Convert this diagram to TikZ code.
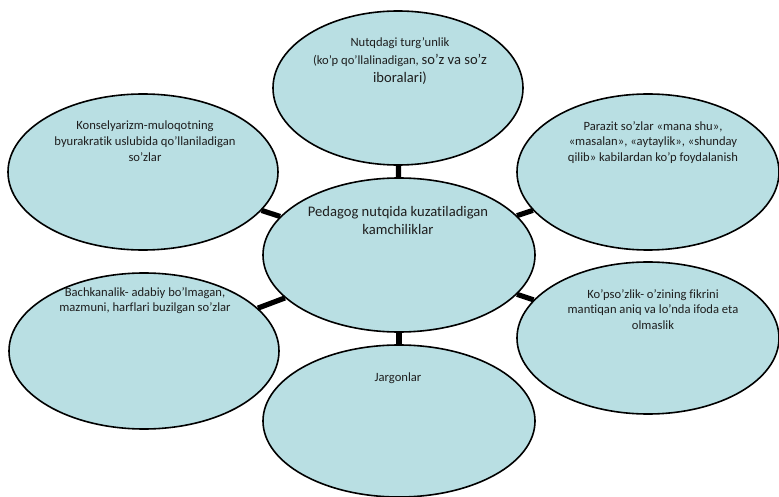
\documentclass[tikz,border=0pt]{standalone}
\usepackage{fontspec}
\setmainfont{Carlito}[Ligatures=NoCommon]
\usetikzlibrary{shapes.geometric}
\definecolor{ovalfill}{RGB}{185,223,227}
\definecolor{textgray}{RGB}{30,30,30}

\begin{document}
\begin{tikzpicture}[x=1pt, y=-1pt,
		oval_style/.style={ellipse,draw=black,line width=1.6pt,fill=ovalfill,inner sep=0pt},
		text_style/.style={align=center,anchor=north,inner sep=0pt,text=textgray,
			font=\fontsize{12.6}{15.6}\selectfont},
		edge_style/.style={draw=black,line width=5.2pt}]
		\useasboundingbox (0,0) rectangle (779,497);

		\node[oval_style,minimum width=272pt,minimum height=154pt] (n0) at (399,255) {};
		\node[oval_style,minimum width=250pt,minimum height=154pt] (n1) at (398,88)  {};
		\node[oval_style,minimum width=270pt,minimum height=156pt] (n2) at (143,172) {};
		\node[oval_style,minimum width=262pt,minimum height=156pt] (n3) at (648,172) {};
		\node[oval_style,minimum width=270pt,minimum height=156pt] (n4) at (144,351) {};
		\node[oval_style,minimum width=262pt,minimum height=152pt] (n5) at (648,338) {};
		\node[oval_style,minimum width=272pt,minimum height=152pt] (n6) at (399,421) {};

		\draw[edge_style]  (n0) -- (n1);
		\draw[edge_style]  (n0) -- (n2);
		\draw[edge_style]  (n0) -- (n3);
		\draw[edge_style]  (n0) -- (n4);
		\draw[edge_style]  (n0) -- (n5);
		\draw[edge_style]  (n0) -- (n6);

		\node[text_style,font=\fontsize{14.6}{18}\selectfont] (t0) at (398,206)
			{Pedagog nutqida kuzatiladigan\\kamchiliklar};
		\node[text_style,font=\fontsize{12.6}{18}\selectfont] (t1) at (400,37)
			{Nutqdagi turg’unlik\\(ko’p qo’llalinadigan, {\fontsize{14.6}{18}\selectfont so’z va so’z}\\
			{\fontsize{14.6}{18}\selectfont iboralari)}};
		\node[text_style] (t2) at (145,121)
			{Konselyarizm-muloqotning\\byurakratik uslubida qo’llaniladigan\\so’zlar};
		\node[text_style] (t3) at (653,121)
			{Parazit so’zlar «mana shu»,\\«masalan», «aytaylik», «shunday\\qilib» kabilardan ko’p foydalanish};
		\node[text_style] (t4) at (145,287)
			{Bachkanalik- adabiy bo’lmagan,\\mazmuni, harflari buzilgan so’zlar};
		\node[text_style] (t5) at (653,289)
			{Ko’pso’zlik- o’zining fikrini\\mantiqan aniq va lo’nda ifoda eta\\olmaslik};
		\node[text_style] (t6) at (398,373) {Jargonlar};
\end{tikzpicture}
\end{document}
